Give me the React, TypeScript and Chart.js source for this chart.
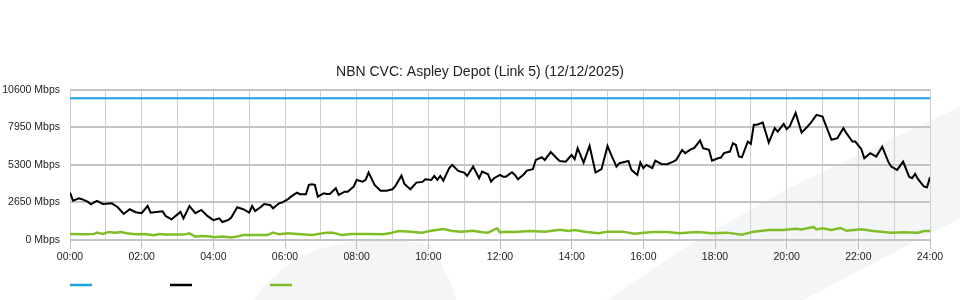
import React, { useEffect, useRef } from "react";
import { Chart, registerables } from "chart.js";

Chart.register(...registerables);

const TITLE = "NBN CVC: Aspley Depot (Link 5) (12/12/2025)";
const FONT = "'Liberation Sans', Arial, Helvetica, sans-serif";

// y-axis tick values (Mbps)
const yTicks = [0, 2650, 5300, 7950, 10600];

// capacity line (blue)
const capacityMinutes = [0, 1440];
const capacityMbps = [10000, 10000];

// main traffic (black): minutes after midnight, Mbps
const trafficMinutes = [
  0, 5, 15, 20, 30, 35, 45, 55, 70, 80, 90, 100, 110, 120, 130, 135, 155, 160, 170, 185,
  190, 200, 210, 220, 230, 240, 250, 255, 265, 270, 280, 290, 300, 305, 310, 320, 325, 335, 340, 350,
  355, 365, 370, 380, 385, 395, 400, 405, 410, 415, 425, 430, 435, 445, 450, 460, 465, 475, 480, 490,
  495, 500, 510, 520, 530, 540, 545, 555, 560, 570, 580, 590, 595, 605, 610, 615, 620, 625, 635, 640,
  650, 660, 665, 675, 685, 690, 700, 705, 710, 720, 725, 730, 740, 745, 750, 760, 765, 775, 780, 790,
  795, 805, 815, 820, 830, 835, 840, 845, 850, 860, 870, 880, 890, 900, 905, 915, 920, 935, 940, 950,
  955, 960, 965, 975, 980, 990, 1000, 1010, 1015, 1025, 1030, 1040, 1045, 1055, 1060, 1070, 1075, 1085, 1090, 1095,
  1105, 1110, 1115, 1120, 1125, 1135, 1140, 1145, 1150, 1160, 1170, 1180, 1185, 1195, 1200, 1205, 1215, 1225, 1235, 1240,
  1250, 1260, 1275, 1285, 1295, 1300, 1310, 1315, 1325, 1330, 1340, 1350, 1360, 1370, 1375, 1385, 1395, 1405, 1410, 1415,
  1420, 1430, 1435, 1440,
];
const trafficMbps = [
  3340, 2780, 2950, 2880, 2690, 2520, 2760, 2540, 2590, 2310, 1840, 2170, 1960, 1890, 2400, 1930, 2030, 1700, 1460, 1980,
  1530, 2400, 1890, 2120, 1700, 1400, 1530, 1270, 1410, 1580, 2310, 2170, 1930, 2400, 2050, 2350, 2540, 2470, 2240, 2590,
  2640, 2880, 3060, 3340, 3230, 3230, 3890, 3940, 3890, 3060, 3300, 3250, 3250, 3650, 3180, 3410, 3410, 3770, 4240, 4120,
  4240, 4760, 3890, 3480, 3480, 3580, 3820, 4540, 3960, 3580, 4050, 4100, 4290, 4240, 4520, 4240, 4520, 4190, 5070, 5300,
  4880, 4760, 4520, 5180, 4360, 4830, 4640, 4120, 4360, 4590, 4470, 4470, 4780, 4590, 4290, 4640, 4900, 5000, 5650, 5840,
  5650, 6200, 5770, 5580, 5530, 5770, 6010, 5700, 6480, 5460, 6640, 4760, 5000, 6640, 6130, 5180, 5420, 5580, 4950, 4590,
  5460, 5070, 5300, 5070, 5600, 5370, 5350, 5530, 5650, 6360, 6130, 6410, 6480, 7020, 6480, 6360, 5600, 5770, 5820, 6130,
  6240, 6830, 6710, 5890, 5840, 6950, 6780, 8130, 8130, 8290, 6880, 7890, 7650, 8200, 7820, 8010, 8970, 7580, 8010, 8250,
  8830, 8710, 7070, 7190, 7890, 7540, 6950, 6950, 6410, 5770, 6130, 5890, 6590, 5530, 5180, 4950, 5530, 4470, 4360, 4660,
  4290, 3770, 3720, 4430,
];

// secondary traffic (green)
const lowMinutes = [
  0, 25, 40, 45, 55, 65, 75, 85, 95, 110, 125, 140, 150, 160, 190, 200, 210, 220, 235, 240,
  255, 270, 280, 290, 310, 330, 340, 350, 365, 380, 405, 430, 440, 455, 470, 485, 500, 525, 535, 550,
  570, 590, 605, 625, 640, 655, 675, 690, 700, 715, 720, 730, 745, 770, 795, 820, 835, 845, 865, 885,
  900, 925, 945, 975, 1000, 1020, 1050, 1075, 1100, 1125, 1145, 1170, 1195, 1215, 1225, 1245, 1250, 1260, 1275, 1290,
  1300, 1325, 1345, 1375, 1395, 1420, 1430, 1440,
];
const lowMbps = [
  420, 400, 420, 520, 420, 570, 520, 570, 470, 400, 420, 330, 420, 380, 380, 470, 240, 280, 240, 190,
  240, 170, 240, 350, 350, 350, 520, 400, 470, 420, 350, 520, 520, 350, 420, 420, 420, 400, 470, 640,
  590, 520, 660, 780, 640, 590, 660, 540, 520, 830, 540, 590, 570, 640, 590, 730, 640, 710, 570, 470,
  590, 590, 450, 570, 570, 470, 570, 470, 520, 380, 590, 710, 710, 800, 750, 920, 750, 830, 710, 850,
  660, 750, 640, 520, 540, 520, 640, 640,
];

const seriesColors = ["#1ba0e0", "#000000", "#80be28"];

const zip = (xs: number[], ys: number[]) => xs.map((x, i) => ({ x, y: ys[i] }));
const pad2 = (n: number) => String(n).padStart(2, "0");

const backgroundPlugin = {
  id: "bgWatermark",
  beforeDraw(chart: any) {
    const ctx = chart.ctx;
    ctx.save();
    ctx.fillStyle = "#ffffff";
    ctx.fillRect(0, 0, chart.width, chart.height);
    ctx.fillStyle = "#f4f5f7";
    ctx.beginPath();
    ctx.moveTo(607, 300);
    ctx.lineTo(689, 245);
    ctx.lineTo(791, 187);
    ctx.lineTo(936, 118);
    ctx.lineTo(960, 107);
    ctx.lineTo(960, 218);
    ctx.lineTo(803, 300);
    ctx.closePath();
    ctx.fill();
    ctx.beginPath();
    ctx.moveTo(253, 300);
    ctx.quadraticCurveTo(290, 250, 345, 243);
    ctx.quadraticCurveTo(400, 236, 432, 246);
    ctx.lineTo(452, 285);
    ctx.lineTo(456, 300);
    ctx.closePath();
    ctx.fill();
    ctx.restore();
  },
};

const legendLinesPlugin = {
  id: "legendLines",
  afterDraw(chart: any) {
    const ctx = chart.ctx;
    const left = chart.chartArea.left;
    ctx.save();
    chart.data.datasets.forEach((ds: any, i: number) => {
      ctx.strokeStyle = ds.borderColor;
      ctx.lineWidth = 2.5;
      ctx.beginPath();
      ctx.moveTo(left + i * 100, 285);
      ctx.lineTo(left + i * 100 + 22, 285);
      ctx.stroke();
    });
    ctx.restore();
  },
};

export default function App() {
  const ref = useRef<HTMLCanvasElement | null>(null);

  useEffect(() => {
    if (!ref.current) return;
    const chart = new Chart(ref.current, {
      type: "line",
      data: {
        datasets: [
          {
            label: "",
            data: zip(capacityMinutes, capacityMbps),
            borderColor: seriesColors[0],
            borderWidth: 2,
            pointRadius: 0,
          },
          {
            label: "",
            data: zip(trafficMinutes, trafficMbps),
            borderColor: seriesColors[1],
            borderWidth: 2,
            pointRadius: 0,
          },
          {
            label: "",
            data: zip(lowMinutes, lowMbps),
            borderColor: seriesColors[2],
            borderWidth: 2.5,
            pointRadius: 0,
          },
        ],
      },
      options: {
        animation: false,
        responsive: false,
        maintainAspectRatio: false,
        layout: { padding: { left: 0, right: 0, top: 0, bottom: 30 } },
        plugins: {
          legend: { display: false },
          tooltip: { enabled: false },
          title: {
            display: true,
            text: TITLE,
            color: "#222222",
            font: { family: FONT, size: 14, weight: "normal" },
            padding: { top: 64, bottom: 9 },
          },
        },
        scales: {
          x: {
            type: "linear",
            min: 0,
            max: 1440,
            ticks: {
              stepSize: 60,
              autoSkip: false,
              maxRotation: 0,
              padding: 2,
              color: "#222222",
              font: { family: FONT, size: 10.5 },
              callback: (v: any) => (Number(v) % 120 === 0 ? `${pad2(Number(v) / 60)}:00` : ""),
            },
            grid: {
              color: "#cfcfcf",
              lineWidth: 1,
              tickLength: 9,
              tickColor: (ctx: any) =>
                ctx.tick && Number(ctx.tick.value) % 120 === 0 ? "#bdbdbd" : "rgba(0,0,0,0)",
            },
            border: { display: false },
            afterFit: (s: any) => {
              s.height = 30;
            },
          },
          y: {
            type: "linear",
            min: yTicks[0],
            max: yTicks[yTicks.length - 1],
            afterBuildTicks: (s: any) => {
              s.ticks = yTicks.map((v) => ({ value: v }));
            },
            ticks: {
              padding: 10,
              color: "#222222",
              font: { family: FONT, size: 10.5 },
              callback: (v: any) => `${v} Mbps`,
            },
            grid: { color: "#c4c4c4", lineWidth: 2, drawTicks: false },
            border: { display: false },
            afterFit: (s: any) => {
              s.width = 70;
            },
          },
          yRight: {
            type: "linear",
            position: "right",
            min: yTicks[0],
            max: yTicks[yTicks.length - 1],
            ticks: { display: false },
            grid: { display: false, drawTicks: false },
            border: { display: false },
            afterFit: (s: any) => {
              s.width = 30;
            },
          },
        },
      } as any,
      plugins: [backgroundPlugin, legendLinesPlugin],
    });
    return () => chart.destroy();
  }, []);

  return (
    <div style={{ position: "absolute", left: 0, top: 0, width: 960, height: 300 }}>
      <canvas ref={ref} width={960} height={300} style={{ display: "block" }} />
    </div>
  );
}
